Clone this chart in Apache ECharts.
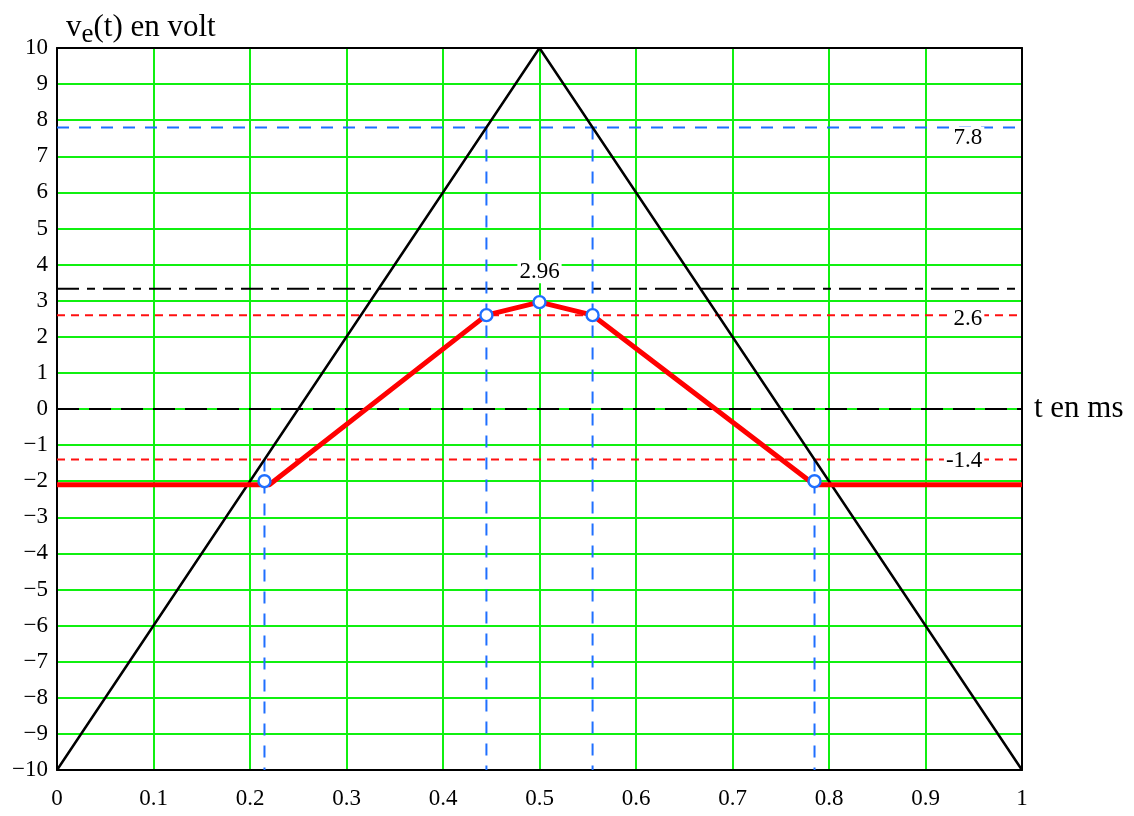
<!DOCTYPE html>
<html><head><meta charset="utf-8">
<script src="https://cdn.jsdelivr.net/npm/echarts@6/dist/echarts.min.js"></script>
<style>html,body{margin:0;padding:0;background:#fff}#c{width:1134px;height:816px}</style>
</head><body><div id="c"></div>
<script>
// Data
var triangle = [[0,-10],[0.5,10],[1,-10]];
var vs = [[0,-2.1],[0.22,-2.1],[0.445,2.6],[0.5,2.96],[0.555,2.6],[0.785,-2.1],[1,-2.1]];
var keyPoints = [[0.215,-2],[0.445,2.6],[0.5,2.96],[0.555,2.6],[0.785,-2]];
var blueLevel = 7.8;
var redLevels = [2.6,-1.4];
var blackLevel = 3.33;
var blueVerticals = [[0.215,-1.4],[0.445,7.8],[0.555,7.8],[0.785,-1.4]];
var textLabels = [[0.944,7.5,'7.8'],[0.944,2.5,'2.6'],[0.94,-1.45,'-1.4'],[0.5,3.8,'2.96']];
var xTicks = ['0','0.1','0.2','0.3','0.4','0.5','0.6','0.7','0.8','0.9','1'];

var FONT = 'Liberation Serif';
var green = '#10f010';
var blue = '#1f6fff';
var series = [];
function hline(y, color, type, w){
  series.push({type:'line', data:[[0,y],[1,y]], symbol:'none', silent:true,
    lineStyle:{color:color, width:w||2, type:type}, z:3});
}
hline(0, '#000', [22,10], 2);
hline(blackLevel, '#000', [22,8,8,8], 2);
redLevels.forEach(function(y){ hline(y, '#ff1010', [8,6], 2); });
hline(blueLevel, blue, [12,10], 2);
blueVerticals.forEach(function(p){
  series.push({type:'line', data:[[p[0],p[1]],[p[0],-10]], symbol:'none', silent:true,
    lineStyle:{color:blue, width:2, type:[12,10]}, z:3});
});
series.push({type:'line', data:triangle, symbol:'none', lineStyle:{color:'#000', width:2.5}, z:4});
series.push({type:'line', data:vs, symbol:'none', lineStyle:{color:'#ff0000', width:5}, z:5});
series.push({type:'scatter', data:keyPoints, symbol:'circle', symbolSize:12,
  itemStyle:{color:'#fff', borderColor:blue, borderWidth:2.4, opacity:1}, z:6});
series.push({type:'scatter', data:textLabels.map(function(t){return {value:[t[0],t[1]], name:t[2]};}),
  symbolSize:0, z:7, itemStyle:{opacity:1},
  label:{show:true, position:'inside', formatter:function(p){return p.name;},
    fontFamily:FONT, fontSize:23, color:'#000', backgroundColor:'#fff', padding:[0,2]}});

var chart = echarts.init(document.getElementById('c'));
chart.setOption({
  animation:false,
  backgroundColor:'#fff',
  title:{text:'v{s|e}(t) en volt', left:61, top:2,
    textStyle:{fontFamily:FONT, fontSize:31, fontWeight:'normal', color:'#000',
      rich:{s:{fontFamily:FONT, fontSize:27, color:'#000', verticalAlign:'bottom', padding:[14,0,0,0]}}}},
  graphic:[{type:'text', left:1034, top:393, style:{text:'t en ms', font:'31px "Liberation Serif"', fill:'#000'}}],
  grid:{left:57, right:112, top:48, bottom:46},
  xAxis:[{type:'value', min:0, max:1, interval:0.1,
    axisLine:{show:true, onZero:false, lineStyle:{color:'#000', width:2}},
    axisTick:{show:false},
    axisLabel:{margin:17, fontFamily:FONT, fontSize:23, color:'#000',
      formatter:function(v){return xTicks[Math.round(v*10)];}},
    splitLine:{show:true, lineStyle:{color:green, width:2}}},
   {type:'value', position:'top', min:0, max:1, axisLine:{show:true, onZero:false, lineStyle:{color:'#000', width:2}},
    axisTick:{show:false}, axisLabel:{show:false}, splitLine:{show:false}}],
  yAxis:[{type:'value', min:-10, max:10, interval:1,
    axisLine:{show:true, onZero:false, lineStyle:{color:'#000', width:2}},
    axisTick:{show:false},
    axisLabel:{margin:9, fontFamily:FONT, fontSize:23, color:'#000',
      formatter:function(v){return v<0 ? '\u2212'+Math.abs(v) : String(v);}},
    splitLine:{show:true, lineStyle:{color:green, width:2}}},
   {type:'value', position:'right', min:-10, max:10, axisLine:{show:true, onZero:false, lineStyle:{color:'#000', width:2}},
    axisTick:{show:false}, axisLabel:{show:false}, splitLine:{show:false}}],
  series:series
});
</script></body></html>
